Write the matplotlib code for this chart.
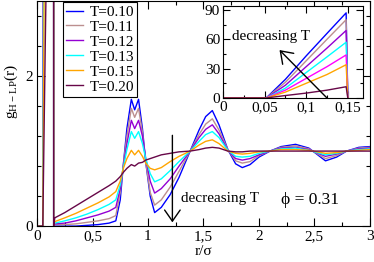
import matplotlib
matplotlib.use('Agg')
import matplotlib.pyplot as plt
from matplotlib.ticker import MultipleLocator

plt.rcParams['font.family'] = ['Liberation Serif', 'DejaVu Serif']
plt.rcParams['mathtext.fontset'] = 'custom'
plt.rcParams['mathtext.rm'] = 'Liberation Serif'
plt.rcParams['font.size'] = 11

# first shell (inset), g_H-LP(r) up to r = 0.15
r_shell = [0.0, 0.052, 0.075, 0.10, 0.125, 0.148, 0.150]
shell_T = ['0.10', '0.11', '0.12', '0.13', '0.14', '0.15', '0.20']
shell_g = {
    '0.10': [0, 0, 19, 43, 66, 87, 0],
    '0.11': [0, 0, 16, 38, 60, 80, 0],
    '0.12': [0, 0, 13, 32, 51, 69, 0],
    '0.13': [0, 0, 10, 26, 42, 57, 0],
    '0.14': [0, 0, 8, 20, 32, 44, 0],
    '0.15': [0, 0, 6, 15, 24, 34, 0],
    '0.20': [0, 0, 2.5, 5, 8, 11.5, 0],
}

# rest of g_H-LP(r)
r_main = [0.16, 0.25, 0.35, 0.45, 0.55, 0.65, 0.71, 0.75, 0.78, 0.81, 0.85, 0.88,
          0.915, 0.95, 0.98, 1.02, 1.06, 1.12, 1.2, 1.28, 1.38, 1.46, 1.52, 1.58,
          1.64, 1.72, 1.79, 1.85, 1.92, 2.0, 2.1, 2.2, 2.33, 2.45, 2.6, 2.7, 2.79,
          2.9, 3.0]
main_T = ['0.10', '0.11', '0.12', '0.13', '0.15', '0.20']
main_g = {
    '0.10': [0.0, 0.0, 0.0, 0.01, 0.02, 0.04, 0.07, 0.35, 0.85, 1.3, 1.69, 1.55,
             1.69, 1.3, 0.85, 0.4, 0.18, 0.25, 0.42, 0.65, 1.0, 1.28, 1.46, 1.54,
             1.35, 1.02, 0.83, 0.78, 0.82, 0.92, 1.0, 1.06, 1.09, 1.04, 0.87, 0.92,
             1.0, 1.05, 1.06],
    '0.11': [0.02, 0.02, 0.03, 0.05, 0.07, 0.1, 0.14, 0.45, 0.85, 1.2, 1.57, 1.45,
             1.57, 1.25, 0.85, 0.45, 0.28, 0.35, 0.52, 0.73, 1.0, 1.22, 1.36, 1.43,
             1.28, 1.02, 0.87, 0.84, 0.86, 0.94, 1.0, 1.05, 1.07, 1.03, 0.9, 0.94,
             1.0, 1.04, 1.05],
    '0.12': [0.03, 0.04, 0.07, 0.11, 0.15, 0.2, 0.25, 0.5, 0.82, 1.1, 1.41, 1.3,
             1.41, 1.2, 0.9, 0.6, 0.44, 0.5, 0.63, 0.8, 1.0, 1.18, 1.29, 1.35,
             1.23, 1.01, 0.9, 0.88, 0.9, 0.95, 1.0, 1.04, 1.05, 1.02, 0.93, 0.96,
             1.0, 1.03, 1.04],
    '0.13': [0.04, 0.07, 0.11, 0.16, 0.22, 0.29, 0.35, 0.55, 0.8, 1.02, 1.26, 1.17,
             1.26, 1.1, 0.9, 0.7, 0.59, 0.63, 0.74, 0.86, 1.0, 1.13, 1.22, 1.26,
             1.18, 1.01, 0.93, 0.92, 0.93, 0.97, 1.0, 1.03, 1.04, 1.01, 0.95, 0.97,
             1.0, 1.02, 1.03],
    '0.15': [0.06, 0.11, 0.17, 0.24, 0.31, 0.39, 0.46, 0.6, 0.78, 0.9, 1.01, 0.95,
             1.01, 0.93, 0.84, 0.77, 0.75, 0.78, 0.86, 0.93, 1.0, 1.08, 1.13, 1.15,
             1.1, 1.0, 0.97, 0.96, 0.97, 0.99, 1.0, 1.02, 1.02, 1.01, 0.97, 0.98,
             1.0, 1.01, 1.02],
    '0.20': [0.11, 0.18, 0.27, 0.36, 0.45, 0.54, 0.6, 0.66, 0.72, 0.77, 0.82, 0.8,
             0.84, 0.85, 0.88, 0.9, 0.92, 0.95, 0.97, 0.99, 1.0, 1.02, 1.04, 1.05,
             1.04, 1.0, 0.99, 0.99, 1.0, 1.0, 1.0, 1.0, 1.0, 1.0, 1.0, 1.0, 1.0,
             1.0, 1.0],
}

colors = {'0.10': '#0000ff', '0.11': '#bc8f8f', '0.12': '#9400d3', '0.13': '#00ffff',
          '0.14': '#ff00ff', '0.15': '#ffa500', '0.20': '#670748'}

xtick_labels = ['0', '0,5', '1', '1,5', '2', '2,5', '3']
inset_xtick_labels = ['0', '0,05', '0,1', '0,15']

fig = plt.figure(figsize=(3.74, 2.62), dpi=100)
ax = fig.add_axes([0.099, 0.137, 0.890, 0.859])

for T in main_T:
    r = r_shell + r_main
    g = shell_g[T] + main_g[T]
    ax.plot(r, g, color=colors[T], lw=1.0, label='T=' + T)

ax.set_xlim(0, 3)
ax.set_ylim(0, 3)
ax.set_xticks([0, 0.5, 1, 1.5, 2, 2.5, 3], xtick_labels)
ax.xaxis.set_minor_locator(MultipleLocator(0.25))
ax.yaxis.set_major_locator(MultipleLocator(2))
ax.yaxis.set_minor_locator(MultipleLocator(0.4))
ax.tick_params(which='both', direction='in', top=True, right=True, width=0.8)
ax.tick_params(which='major', length=6, pad=3)
ax.tick_params(which='minor', length=3)
ax.set_xlabel('r/σ', labelpad=1)
ax.set_ylabel(r'g$_{\mathrm{H-LP}}$(r)')
ax.yaxis.set_label_coords(-0.052, 0.6)

leg = ax.legend(loc='upper left', bbox_to_anchor=(0.078, 0.995), borderaxespad=0,
                fancybox=False, framealpha=1, edgecolor='black', handlelength=1.1,
                handletextpad=0.45, labelspacing=0.08, borderpad=0.2, fontsize=11)
leg.get_frame().set_linewidth(0.8)

ax.annotate('', xy=(1.22, 0.05), xytext=(1.22, 1.21),
            arrowprops=dict(arrowstyle='->,head_length=0.5,head_width=0.35',
                            lw=1.0, color='black', mutation_scale=16,
                            shrinkA=0, shrinkB=0))
ax.text(1.3, 0.37, 'decreasing T', fontsize=11, va='center')
ax.text(2.2, 0.35, 'ϕ = 0.31', fontsize=12.5, va='center')

# inset
axi = fig.add_axes([0.596, 0.626, 0.374, 0.351])
for T in shell_T:
    axi.plot(r_shell, shell_g[T], color=colors[T], lw=1.0)
axi.set_xlim(0, 0.168)
axi.set_ylim(0, 94)
axi.set_xticks([0, 0.05, 0.1, 0.15], inset_xtick_labels)
axi.xaxis.set_minor_locator(MultipleLocator(0.025))
axi.yaxis.set_major_locator(MultipleLocator(30))
axi.yaxis.set_minor_locator(MultipleLocator(15))
axi.tick_params(which='both', direction='in', top=True, right=True, width=0.8)
axi.tick_params(which='major', length=5, pad=2)
axi.tick_params(which='minor', length=2.5)
axi.annotate('', xy=(0.068, 49), xytext=(0.125, 0),
             arrowprops=dict(arrowstyle='->,head_length=0.5,head_width=0.35',
                             lw=1.0, color='black', mutation_scale=16,
                             shrinkA=0, shrinkB=0))
axi.text(0.011, 63, 'decreasing T', fontsize=11, va='center')

fig.savefig('out.png', dpi=100)
